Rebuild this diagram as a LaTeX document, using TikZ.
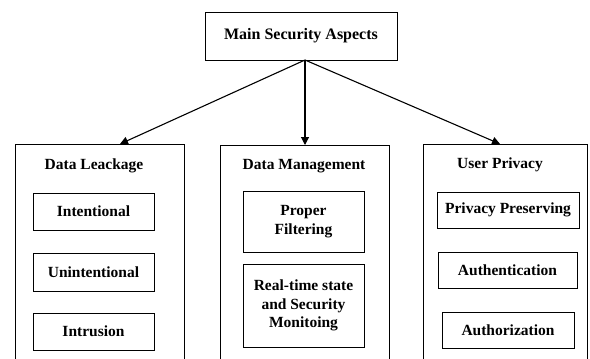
\documentclass[tikz,border=0pt]{standalone}
\usepackage{fontspec}
\setmainfont{Liberation Serif}
\usetikzlibrary{arrows.meta}
\begin{document}
\begin{tikzpicture}[x=1pt,y=-1pt,
  box/.style={draw,line width=1pt,font=\bfseries\fontsize{15.5}{18.5}\selectfont,align=center,inner sep=0pt},
  col/.style={draw,line width=1pt},
  head/.style={font=\bfseries\fontsize{15.5}{18.5}\selectfont},
  conn/.style={line width=1.1pt,-{Triangle[length=8pt,width=8pt]}}]
\useasboundingbox (0,0) rectangle (590,359);
\clip (0,0) rectangle (590,359);
\node[box,minimum width=192pt,minimum height=48pt,font=\bfseries\fontsize{16}{18}\selectfont] (main) at (301,36) {Main Security Aspects};
% columns
\draw[col] (15,380) -- (15,144) -- (184,144) -- (184,380);
\draw[col] (220,380) -- (220,145) -- (389,145) -- (389,380);
\draw[col] (423,380) -- (423,144) -- (587,144) -- (587,380);
\coordinate (c1) at (120,144);
\coordinate (c2) at (305,145);
\coordinate (c3) at (500,144);
\coordinate (src) at (305,60);
\draw[conn] (src) -- (c1);
\draw[conn] (src) -- (c2);
\draw[conn] (src) -- (c3);
\node[head] (h1) at (94,166) {Data Leackage};
\node[head] (h2) at (304,166) {Data Management};
\node[head] (h3) at (500,165) {User Privacy};
% left
\node[box,minimum width=121pt,minimum height=37pt] (a1) at (93.5,211.5) {Intentional};
\node[box,minimum width=121pt,minimum height=38pt] (a2) at (93.5,272) {Unintentional};
\node[box,minimum width=121pt,minimum height=37pt] (a3) at (93.5,331.5) {Intrusion};
% middle
\node[box,minimum width=121pt,minimum height=61pt] (b1) at (303.5,221.5) {Proper\\Filtering};
\node[box,minimum width=121pt,minimum height=83pt] (b2) at (303.5,305.5) {Real-time state\\and Security\\Monitoing};
% right
\node[box,minimum width=142pt,minimum height=36pt] (d1) at (508,210) {Privacy Preserving};
\node[box,minimum width=139pt,minimum height=36pt] (d2) at (507.5,270) {Authentication};
\node[box,minimum width=132pt,minimum height=36pt] (d3) at (508,330) {Authorization};
\end{tikzpicture}
\end{document}
